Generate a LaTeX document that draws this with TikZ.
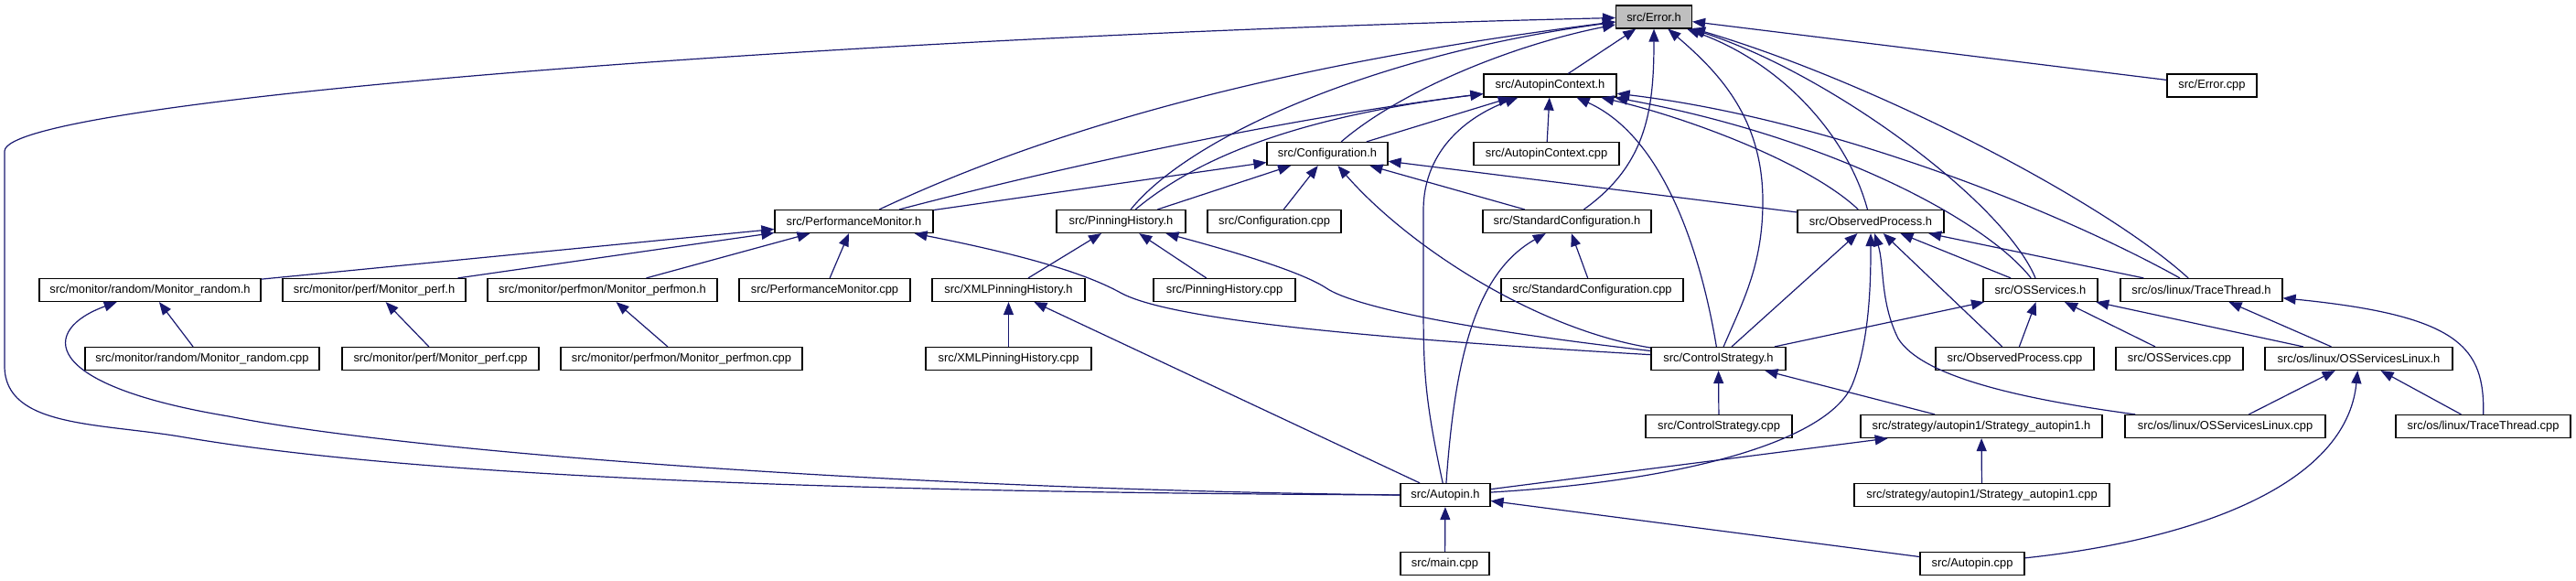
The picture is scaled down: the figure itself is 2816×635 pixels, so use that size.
\documentclass[tikz,border=0pt]{standalone}
\usepackage{fontspec}
\setmainfont{Liberation Sans}
\usetikzlibrary{arrows.meta}
\definecolor{edgeblue}{HTML}{191970}
\definecolor{rootgray}{HTML}{BFBFBF}
\begin{document}
\begin{tikzpicture}[x=0.5pt,y=-0.5pt,
  box/.style={draw=black, fill=white, line width=0.6pt, minimum height=12.5pt, inner sep=0pt,
    font=\fontsize{6.45}{7}\selectfont},
  dep/.style={draw=edgeblue, line width=0.6pt, -{Triangle[length=7pt,width=5.5pt]}}]
\useasboundingbox (0,0) rectangle (2816,635);
% nodes
\node[box, minimum width=41.5pt, fill=rootgray] (err) at (1808,18.5) {src/Error.h};
\node[box, minimum width=72.5pt] (ctx) at (1694.5,93.5) {src/AutopinContext.h};
\node[box, minimum width=49pt] (errcpp) at (2418,93.5) {src/Error.cpp};
\node[box, minimum width=66pt] (conf) at (1451,168) {src/Configuration.h};
\node[box, minimum width=79.5pt] (ctxcpp) at (1690.5,168) {src/AutopinContext.cpp};
\node[box, minimum width=86.5pt] (perf) at (933.5,242) {src/PerformanceMonitor.h};
\node[box, minimum width=70.5pt] (pin) at (1225.5,242) {src/PinningHistory.h};
\node[box, minimum width=73pt] (confcpp) at (1393,242) {src/Configuration.cpp};
\node[box, minimum width=92pt] (std) at (1713,242) {src/StandardConfiguration.h};
\node[box, minimum width=80pt] (obs) at (2045,242) {src/ObservedProcess.h};
\node[box, minimum width=121pt] (mrand) at (164,317) {src/monitor/random/Monitor\_random.h};
\node[box, minimum width=100pt] (mperf) at (409,317) {src/monitor/perf/Monitor\_perf.h};
\node[box, minimum width=125.5pt] (mpmon) at (658.5,317) {src/monitor/perfmon/Monitor\_perfmon.h};
\node[box, minimum width=93.5pt] (perfcpp) at (901.5,317) {src/PerformanceMonitor.cpp};
\node[box, minimum width=83.5pt] (xml) at (1102.5,317) {src/XMLPinningHistory.h};
\node[box, minimum width=77.5pt] (pincpp) at (1338.5,317) {src/PinningHistory.cpp};
\node[box, minimum width=99.5pt] (stdcpp) at (1740.5,317) {src/StandardConfiguration.cpp};
\node[box, minimum width=62.5pt] (oss) at (2230.5,317) {src/OSServices.h};
\node[box, minimum width=88.5pt] (tt) at (2406.5,317) {src/os/linux/TraceThread.h};
\node[box, minimum width=128pt] (mrandcpp) at (221,392) {src/monitor/random/Monitor\_random.cpp};
\node[box, minimum width=107.5pt] (mperfcpp) at (481.5,392) {src/monitor/perf/Monitor\_perf.cpp};
\node[box, minimum width=132pt] (mpmoncpp) at (745,392) {src/monitor/perfmon/Monitor\_perfmon.cpp};
\node[box, minimum width=90.5pt] (xmlcpp) at (1102.5,392) {src/XMLPinningHistory.cpp};
\node[box, minimum width=73.5pt] (cs) at (1878.5,392) {src/ControlStrategy.h};
\node[box, minimum width=86.5pt] (obscpp) at (2202.5,392) {src/ObservedProcess.cpp};
\node[box, minimum width=69.5pt] (osscpp) at (2382.5,392) {src/OSServices.cpp};
\node[box, minimum width=102.5pt] (ossl) at (2578.5,392) {src/os/linux/OSServicesLinux.h};
\node[box, minimum width=80pt] (cscpp) at (1879,466) {src/ControlStrategy.cpp};
\node[box, minimum width=132pt] (strat) at (2166,466) {src/strategy/autopin1/Strategy\_autopin1.h};
\node[box, minimum width=109.5pt] (osslcpp) at (2432.5,466) {src/os/linux/OSServicesLinux.cpp};
\node[box, minimum width=95.5pt] (ttcpp) at (2714.5,466) {src/os/linux/TraceThread.cpp};
\node[box, minimum width=49pt] (ap) at (1580,541) {src/Autopin.h};
\node[box, minimum width=139.5pt] (stratcpp) at (2166.5,541) {src/strategy/autopin1/Strategy\_autopin1.cpp};
\node[box, minimum width=48.5pt] (main) at (1579.5,616) {src/main.cpp};
\node[box, minimum width=57pt] (apcpp) at (2156,616) {src/Autopin.cpp};
% edges into Error.h
\draw[dep] (ap.west) .. controls (900,538) and (450,520) .. (202,478) .. controls (110,462) and (5,468) .. (5,400) -- (5,165) .. controls (8,110) and (900,40) .. (err);
\draw[dep] (perf) .. controls (1150,140) and (1400,70) .. (err);
\draw[dep] (pin) .. controls (1300,150) and (1500,60) .. (err);
\draw[dep] (conf) .. controls (1530,100) and (1650,50) .. (err);
\draw[dep] (ctx) -- (err);
\draw[dep] (std) .. controls (1800,180) and (1808,120) .. (err);
\draw[dep] (cs) .. controls (1905,330) and (1927,290) .. (1927,220) .. controls (1927,130) and (1880,80) .. (err);
\draw[dep] (obs) .. controls (2020,150) and (1950,70) .. (err);
\draw[dep] (oss) .. controls (2190,220) and (2000,80) .. (err);
\draw[dep] (tt) .. controls (2300,220) and (2050,90) .. (err);
\draw[dep] (errcpp) -- (err);
% edges into AutopinContext.h
\draw[dep] (perf) .. controls (1150,185) and (1400,130) .. (ctx);
\draw[dep] (pin) .. controls (1300,180) and (1400,130) .. (ctx);
\draw[dep] (conf) -- (ctx);
\draw[dep] (ap) .. controls (1556,430) and (1556,400) .. (1556,320) -- (1556,230) .. controls (1556,160) and (1610,125) .. (ctx);
\draw[dep] (ctxcpp) -- (ctx);
\draw[dep] (cs) .. controls (1860,280) and (1820,150) .. (ctx);
\draw[dep] (obs) .. controls (1980,180) and (1850,130) .. (ctx);
\draw[dep] (oss) .. controls (2170,240) and (2000,150) .. (ctx);
\draw[dep] (tt) .. controls (2250,230) and (2000,130) .. (ctx);
% edges into Configuration.h
\draw[dep] (perf) -- (conf);
\draw[dep] (pin) -- (conf);
\draw[dep] (confcpp) -- (conf);
\draw[dep] (cs) .. controls (1680,360) and (1540,270) .. (conf);
\draw[dep] (std) -- (conf);
\draw[dep] (obs) -- (conf);
% edges into PerformanceMonitor.h
\draw[dep] (mrand) -- (perf);
\draw[dep] (mperf) -- (perf);
\draw[dep] (mpmon) -- (perf);
\draw[dep] (perfcpp) -- (perf);
\draw[dep] (cs) .. controls (1500,370) and (1280,350) .. (1225,320) .. controls (1180,295) and (1100,275) .. (perf);
% edges into PinningHistory.h
\draw[dep] (xml) -- (pin);
\draw[dep] (pincpp) -- (pin);
\draw[dep] (cs) .. controls (1600,360) and (1480,335) .. (1450,315) .. controls (1420,295) and (1330,270) .. (pin);
% monitors
\draw[dep] (ap.west) .. controls (1000,535) and (450,495) .. (250,455) .. controls (40,420) and (45,360) .. (mrand);
\draw[dep] (mrandcpp) -- (mrand);
\draw[dep] (mperfcpp) -- (mperf);
\draw[dep] (mpmoncpp) -- (mpmon);
% XML
\draw[dep] (xmlcpp) -- (xml);
\draw[dep] (ap) -- (xml);
% StandardConfiguration
\draw[dep] (stdcpp) -- (std);
\draw[dep] (ap) .. controls (1590,400) and (1610,300) .. (std);
% ObservedProcess
\draw[dep] (cs) -- (obs);
\draw[dep] (ap) .. controls (1850,525) and (2000,480) .. (2025,420) .. controls (2045,370) and (2045,300) .. (obs);
\draw[dep] (obscpp) -- (obs);
\draw[dep] (osslcpp) .. controls (2200,435) and (2100,410) .. (2075,370) .. controls (2055,330) and (2060,290) .. (obs);
\draw[dep] (oss) -- (obs);
\draw[dep] (tt) -- (obs);
% OSServices
\draw[dep] (cs) -- (oss);
\draw[dep] (obscpp) -- (oss);
\draw[dep] (osscpp) -- (oss);
\draw[dep] (ossl) -- (oss);
% TraceThread
\draw[dep] (ossl) -- (tt);
\draw[dep] (ttcpp) .. controls (2716,380) and (2690,345) .. (tt);
% OSServicesLinux
\draw[dep] (osslcpp) -- (ossl);
\draw[dep] (apcpp) .. controls (2400,590) and (2565,530) .. (ossl);
\draw[dep] (ttcpp) -- (ossl);
% ControlStrategy
\draw[dep] (cscpp) -- (cs);
\draw[dep] (strat) -- (cs);
% Strategy
\draw[dep] (stratcpp) -- (strat);
\draw[dep] (ap) -- (strat);
% Autopin.h
\draw[dep] (main) -- (ap);
\draw[dep] (apcpp) -- (ap);
\end{tikzpicture}
\end{document}
